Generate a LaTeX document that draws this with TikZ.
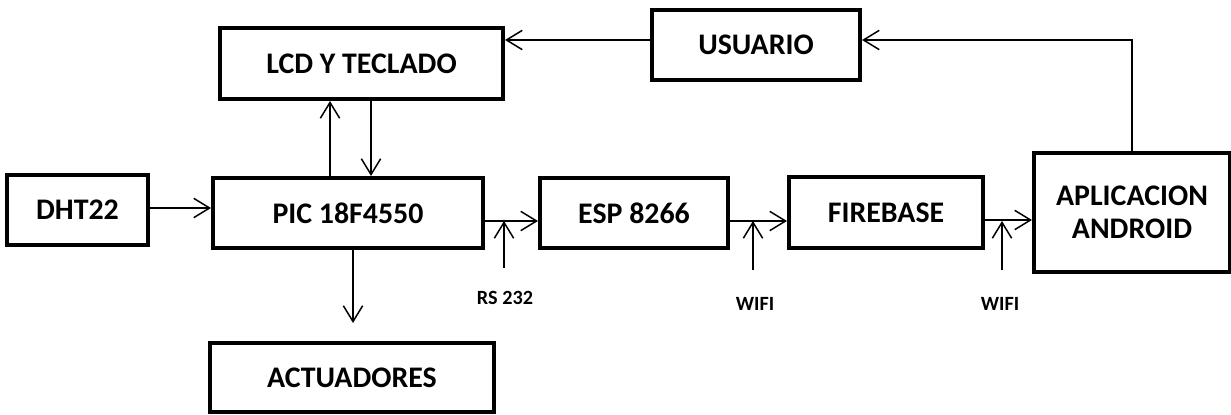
\documentclass[tikz,border=0pt]{standalone}
\usepackage{fontspec}
\setmainfont{Carlito}
\usepackage{tikz}
\usetikzlibrary{arrows.meta,positioning,calc}

\begin{document}
\begin{tikzpicture}[
    block/.style={rectangle, draw, line width=2.3pt, align=center, font=\fontsize{17}{19}\selectfont\bfseries, minimum height=1.40cm},
    arrow/.style={-{Straight Barb[length=9pt, width=11pt]}, line width=0.85pt},
    tag/.style={font=\fontsize{11.5}{13}\selectfont\bfseries},
]
    \useasboundingbox (0,0) rectangle (24.62,8.28);

    % Main chain (middle row)
    \node[block, minimum width=2.82cm] (dht) at (1.55, 4.08) {DHT22};
    \node[block, minimum width=5.40cm] (pic) at (6.96, 4.02) {PIC 18F4550};
    \node[block, minimum width=3.76cm] (esp) at (12.68, 4.02) {ESP 8266};
    \node[block, minimum width=3.88cm, minimum height=1.42cm] (fire) at (17.72, 4.03) {FIREBASE};
    \node[block, minimum width=3.92cm, minimum height=2.38cm] (app) at (22.64, 4.03) {APLICACION\\ANDROID};

    % Top row
    \node[block, minimum width=5.66cm, minimum height=1.42cm] (lcd) at (7.23, 7.01) {LCD Y TECLADO};
    \node[block, minimum width=4.16cm] (usr) at (15.12, 7.38) {USUARIO};

    % Bottom
    \node[block, minimum width=5.68cm, minimum height=1.38cm] (act) at (7.04, 0.73) {ACTUADORES};

    % Link labels
    \node[tag] (rs) at (10.10, 2.32) {RS 232};
    \node[tag] (wifia) at (15.10, 2.20) {WIFI};
    \node[tag] (wifib) at (20.00, 2.20) {WIFI};
    \coordinate (rsbase) at (10.08, 2.92);
    \coordinate (wifiabase) at (15.06, 2.88);
    \coordinate (wifibbase) at (20.04, 2.88);

    % Arrows along the chain
    \draw[arrow] ([yshift=0.04cm]dht.east) -- ([yshift=0.04cm]dht.east -| pic.west);
    \draw[arrow] ([yshift=-0.16cm]pic.east) -- ([yshift=-0.16cm]pic.east -| esp.west);
    \draw[arrow] ([yshift=-0.16cm]esp.east) -- ([yshift=-0.16cm]esp.east -| fire.west);
    \draw[arrow] ([yshift=-0.15cm]fire.east) -- ([yshift=-0.15cm]fire.east -| app.west);

    % Link arrows from below
    \draw[arrow] (rsbase) -- (rsbase |- 0,3.86);
    \draw[arrow] (wifiabase) -- (wifiabase |- 0,3.86);
    \draw[arrow] (wifibbase) -- (wifibbase |- 0,3.86);

    % PIC <-> LCD, PIC -> actuators
    \draw[arrow] ([xshift=-0.36cm]pic.north) -- ([xshift=-0.36cm]pic.north |- lcd.south);
    \draw[arrow] ([xshift=0.46cm]pic.north |- lcd.south) -- ([xshift=0.46cm]pic.north);
    \draw[arrow, shorten >=0.36cm] ([xshift=0.02cm]act.north |- pic.south) -- ([xshift=0.02cm]act.north);

    % Feedback to user and display
    \draw[arrow] (app.north) |- ([yshift=0.10cm]usr.east);
    \draw[arrow] ([yshift=0.10cm]usr.west) -- ([yshift=0.10cm]usr.west -| lcd.east);
\end{tikzpicture}
\end{document}
